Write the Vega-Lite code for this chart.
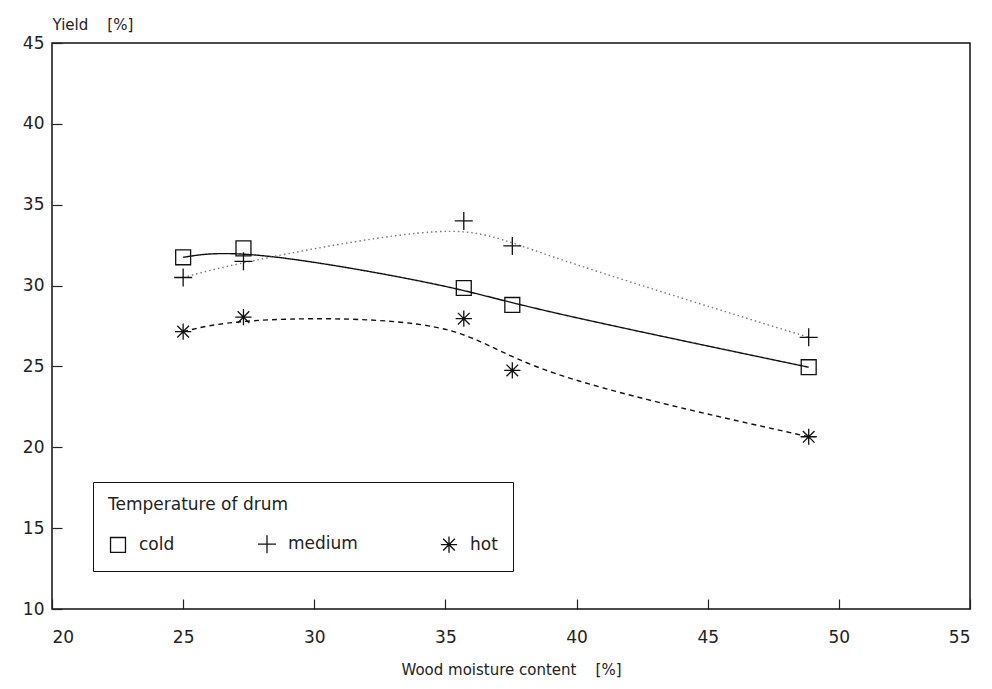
{
  "$schema": "https://vega.github.io/schema/vega-lite/v6.json",
  "width": 918,
  "height": 566,
  "autosize": {"type": "none"},
  "padding": {"left": 52, "top": 43, "right": 22, "bottom": 80},
  "background": "white",
  "config": {
    "view": {"stroke": "#111", "strokeWidth": 1.5},
    "font": "DejaVu Sans",
    "axis": {
      "grid": false,
      "domain": false,
      "labelFont": "DejaVu Sans",
      "labelFontSize": 17,
      "labelColor": "#222",
      "tickColor": "#222",
      "tickSize": -10,
      "tickWidth": 1.2,
      "titleFont": "DejaVu Sans",
      "titleFontWeight": "normal",
      "titleColor": "#222"
    }
  },
  "data": {
    "values": [
      {"temp": "cold", "moisture": 25.0, "yield": 31.75},
      {"temp": "cold", "moisture": 27.3, "yield": 32.3},
      {"temp": "cold", "moisture": 35.7, "yield": 29.85},
      {"temp": "cold", "moisture": 37.55, "yield": 28.8},
      {"temp": "cold", "moisture": 48.85, "yield": 24.95},
      {"temp": "medium", "moisture": 25.0, "yield": 30.5},
      {"temp": "medium", "moisture": 27.3, "yield": 31.5},
      {"temp": "medium", "moisture": 35.7, "yield": 34.0},
      {"temp": "medium", "moisture": 37.55, "yield": 32.45},
      {"temp": "medium", "moisture": 48.85, "yield": 26.8},
      {"temp": "hot", "moisture": 25.0, "yield": 27.15},
      {"temp": "hot", "moisture": 27.3, "yield": 28.05},
      {"temp": "hot", "moisture": 35.7, "yield": 27.95},
      {"temp": "hot", "moisture": 37.55, "yield": 24.75},
      {"temp": "hot", "moisture": 48.85, "yield": 20.65}
    ]
  },
  "layer": [
    {
      "mark": {"type": "line", "interpolate": "basis", "strokeWidth": 1.4},
      "encoding": {
        "x": {
          "field": "moisture",
          "type": "quantitative",
          "scale": {"domain": [20, 55], "nice": false, "zero": false},
          "axis": {
            "values": [20, 25, 30, 35, 40, 45, 50, 55],
            "labelPadding": 30,
            "title": "Wood moisture content\u00a0\u00a0\u00a0\u00a0[%]",
            "titleFontSize": 15,
            "titleBaseline": "middle",
            "titleY": 60
          }
        },
        "y": {
          "field": "yield",
          "type": "quantitative",
          "scale": {"domain": [10, 45], "nice": false, "zero": false},
          "axis": {
            "values": [10, 15, 20, 25, 30, 35, 40, 45],
            "labelPadding": 18,
            "title": "Yield\u00a0\u00a0\u00a0\u00a0[%]",
            "titleFontSize": 15,
            "titleAngle": 0,
            "titleAlign": "left",
            "titleBaseline": "middle",
            "titleX": 0,
            "titleY": -19
          }
        },
        "detail": {"field": "temp", "type": "nominal"},
        "strokeDash": {
          "field": "temp",
          "type": "nominal",
          "scale": {"range": [[1, 0], [5, 4], [1.5, 3]]},
          "legend": null
        },
        "color": {
          "field": "temp",
          "type": "nominal",
          "scale": {"range": ["#111111", "#111111", "#777777"]},
          "legend": null
        }
      }
    },
    {
      "mark": {"type": "point", "filled": false, "strokeWidth": 1.3, "size": 324, "opacity": 1, "color": "#111"},
      "encoding": {
        "x": {"field": "moisture", "type": "quantitative"},
        "y": {"field": "yield", "type": "quantitative"},
        "shape": {
          "field": "temp",
          "type": "nominal",
          "scale": {
            "domain": ["cold", "medium", "hot"],
            "range": [
              "M-0.83,-0.83L0.83,-0.83L0.83,0.83L-0.83,0.83Z",
              "M-1,0L1,0M0,-1L0,1",
              "M-0.9,0L0.9,0M0,-0.9L0,0.9M-0.65,-0.65L0.65,0.65M-0.65,0.65L0.65,-0.65"
            ]
          },
          "legend": {
            "orient": "none",
            "legendX": 41,
            "legendY": 439,
            "direction": "horizontal",
            "title": "Temperature of drum",
            "titleFont": "DejaVu Sans",
            "titleFontSize": 17,
            "titleFontWeight": "normal",
            "titleColor": "#222",
            "titlePadding": 20,
            "labelFont": "DejaVu Sans",
            "labelFontSize": 17,
            "labelColor": "#222",
            "labelOffset": 11,
            "columnPadding": 80,
            "padding": 15,
            "strokeColor": "#111",
            "fillColor": "white",
            "symbolSize": 324,
            "symbolStrokeColor": "#111",
            "symbolFillColor": "transparent",
            "symbolStrokeWidth": 1.3
          }
        }
      }
    }
  ]
}
